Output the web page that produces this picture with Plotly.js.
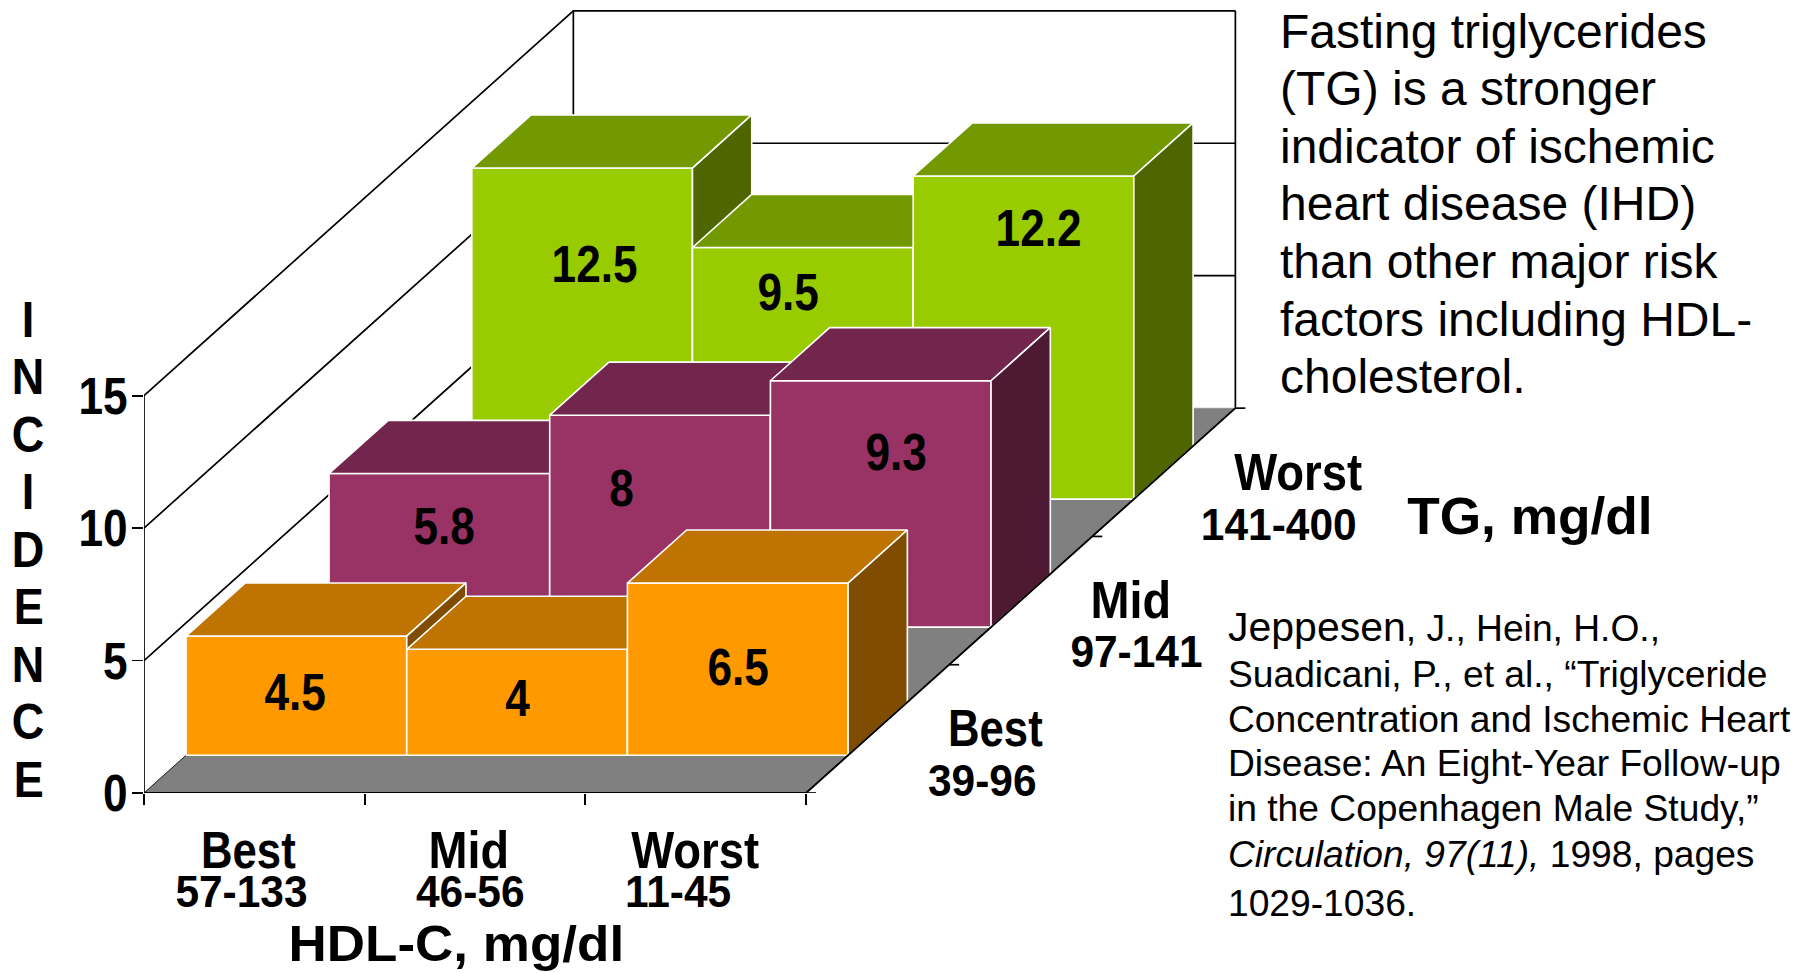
<!DOCTYPE html>
<html><head><meta charset="utf-8">
<script src="https://cdn.plot.ly/plotly-3.0.1.min.js"></script>
<style>html,body{margin:0;padding:0;background:#fff;overflow:hidden}#chart{width:1797px;height:973px}</style>
</head><body><div id="chart"></div>
<script>
// ---------- data ----------
var hdlCategories = ["Best", "Mid", "Worst"];
var hdlRanges = ["57-133", "46-56", "11-45"];
var tgCategories = ["Best", "Mid", "Worst"];
var tgRanges = ["39-96", "97-141", "141-400"];
var incidenceTgBest = [4.5, 4, 6.5];
var incidenceTgMid = [5.8, 8, 9.3];
var incidenceTgWorst = [12.5, 9.5, 12.2];
var incidenceTicks = [0, 5, 10, 15];
var paragraphLines = ["Fasting triglycerides", "(TG) is a stronger", "indicator of ischemic", "heart disease (IHD)", "than other major risk", "factors including HDL-", "cholesterol."];
var citationLines = ["<span style=\"font-size:41px\">Jeppesen</span>, J., Hein, H.O.,", "Suadicani, P., et al., “Triglyceride", "Concentration and Ischemic Heart", "Disease: An Eight-Year Follow-up", "in the Copenhagen Male Study,”", "<i>Circulation, 97(11),</i> 1998, pages", "1029-1036."];

// ---------- style ----------
var FOREST = {front:"#99CC00", top:"#739900", side:"#4D6600"};
var PLUM = {front:"#993366", top:"#73264D", side:"#4D1933"};
var AMBER = {front:"#FF9900", top:"#BF7300", side:"#804D00"};
var W = 1797, H = 973;
var originX = 143.8, originY = 793.3, pxPerCol = 220.7, pxPerUnit = 26.5;
var depthX = 429.4 / pxPerCol, depthY = 385 / pxPerUnit;   // oblique shift of the full depth, in axis units
var rowFront = [0.098, 0.431, 0.7635], rowDepth = 0.138;
var SANS = "'Liberation Sans',Arial,sans-serif";
var catRatio = [0.84, 0.9, 0.875];

function P(col, depth, z) { return [col + depth * depthX, z + depth * depthY]; }
function poly(pts, fill, lineColor, width) {
  return {type:"scatter", mode:"lines", x:pts.map(function(p){return p[0];}).concat([pts[0][0]]),
    y:pts.map(function(p){return p[1];}).concat([pts[0][1]]), fill:"toself", fillcolor:fill,
    line:{color:lineColor, width:width}, hoverinfo:"skip", showlegend:false};
}
function line(pts, width, color) {
  return {type:"scatter", mode:"lines", x:pts.map(function(p){return p[0];}), y:pts.map(function(p){return p[1];}),
    line:{color:color || "#000", width:width || 1.7}, hoverinfo:"skip", showlegend:false};
}
var traces = [];
// walls
incidenceTicks.forEach(function(t){
  if (t > 0) traces.push(line([P(0,0,t), P(0,1,t), P(3,1,t)]));
});
traces.push(line([P(0,0,0), P(0,0,15)]));
traces.push(line([P(0,1,0), P(0,1,15)]));
traces.push(line([P(3,1,0), P(3,1,15)]));
// floor
traces.push(poly([P(0,0,0),P(3,0,0),P(3,1,0),P(0,1,0)], "#808080", "#808080", 0.5));
traces.push(line([P(0,0,0), P(0,1,0)], 0.8));
// depth ticks
[0,1/3,2/3,1].forEach(function(d){
  var a = P(3,d,0);
  traces.push(line([a, [a[0] + 10/pxPerCol, a[1]]]));
});
// bars, back to front
[[incidenceTgWorst, FOREST, 2],[incidenceTgMid, PLUM, 1],[incidenceTgBest, AMBER, 0]].forEach(function(s){
  var d0 = rowFront[s[2]], d1 = d0 + rowDepth, c = s[1];
  s[0].forEach(function(v, i){
    traces.push(poly([P(i,d0,0),P(i+1,d0,0),P(i+1,d0,v),P(i,d0,v)], c.front, "#fff", 1.6));
    traces.push(poly([P(i,d0,v),P(i+1,d0,v),P(i+1,d1,v),P(i,d1,v)], c.top, "#fff", 1.6));
    traces.push(poly([P(i+1,d0,0),P(i+1,d1,0),P(i+1,d1,v),P(i+1,d0,v)], c.side, "#fff", 1.6));
  });
});
// floor front edges on top of the bars
traces.push(line([P(0,0,0), P(3,0,0), P(3,1,0)], 1.9));

// ---------- text ----------
var ann = [], ratios = [];
function txt(t, x, y, size, weight, anchor, ratio) {
  ann.push({xref:"paper", yref:"paper", x:(x-originX)/(W-originX), y:(originY-y)/originY, text:t, showarrow:false,
    xanchor:anchor||"center", yanchor:"middle", align:anchor||"center",
    font:{family:SANS, size:size, color:"#000", weight:weight}});
  ratios.push(ratio || 1);
}
var valuePos = [[[295,692],[517,698],[738,667]], [[444,526],[621,488],[896,452]], [[594,264],[788,292],[1038,228]]];
[incidenceTgBest, incidenceTgMid, incidenceTgWorst].forEach(function(s, r){
  s.forEach(function(v, i){ txt(String(v), valuePos[r][i][0], valuePos[r][i][1], 52, 700, "center", 0.85); });
});
"INCIDENCE".split("").forEach(function(ch, i){ txt(ch, 28, 320 + i*57.5, 50, 700, "center", 0.9); });
[248, 469, 695].forEach(function(x, i){ txt(hdlCategories[i], x, 850, 52, 700, "center", catRatio[i]); });
[241, 470, 678].forEach(function(x, i){ txt(hdlRanges[i], x, 892, 44, 700, "center", 0.965); });
txt("HDL-C, mg/dl", 456, 944, 50, 700, "center", 1.06);
[[995,728],[1131,600],[1298,472]].forEach(function(p, i){ txt(tgCategories[i], p[0], p[1], 52, 700, "center", catRatio[i]); });
[[982,781],[1136,652],[1278,525]].forEach(function(p, i){ txt(tgRanges[i], p[0], p[1], 44, 700, "center", 0.965); });
txt("TG, mg/dl", 1530, 516, 52, 700, "center", 1.024);
var paraY = [32, 89, 147, 204, 262, 320, 377];
paragraphLines.forEach(function(t, i){ txt(t, 1278, paraY[i], 48, 400, "left"); });
var citeY = [627, 674, 719, 763, 808, 854, 903];
citationLines.forEach(function(t, i){ txt(t, 1226, citeY[i], 37.2, 400, "left"); });

var layout = {
  width:W, height:H, paper_bgcolor:"#fff", plot_bgcolor:"#fff", showlegend:false,
  margin:{l:originX, r:0, t:0, b:H-originY, pad:0, autoexpand:false},
  xaxis:{range:[0,(W-originX)/pxPerCol], tickmode:"array", tickvals:[0,1,2,3], ticktext:["","","",""], ticks:"outside", ticklen:11, tickwidth:1.7, tickcolor:"#000", showgrid:false, zeroline:false, showline:false, fixedrange:true},
  yaxis:{range:[0,originY/pxPerUnit], tickmode:"array", tickvals:incidenceTicks, ticktext:incidenceTicks.map(String), ticks:"outside", ticklen:11, tickwidth:1.7, tickcolor:"#000", showgrid:false, zeroline:false, showline:false, fixedrange:true, ticklabelstandoff:-6, tickfont:{family:SANS, size:52, color:"#000", weight:700}},
  annotations:ann
};
function condense(el, ratio) {
  if (ratio === 1) return;
  el.setAttribute("textLength", el.getComputedTextLength() * ratio);
  el.setAttribute("lengthAdjust", "spacingAndGlyphs");
}
Plotly.newPlot("chart", traces, layout, {displayModeBar:false, staticPlot:true}).then(function(gd){
  gd.querySelectorAll(".annotation").forEach(function(a){
    var i = +a.getAttribute("data-index");
    var t = a.querySelector("text");
    if (t) condense(t, ratios[i]);
  });
  gd.querySelectorAll(".ytick text").forEach(function(t){ condense(t, 0.85); });
});
</script></body></html>
